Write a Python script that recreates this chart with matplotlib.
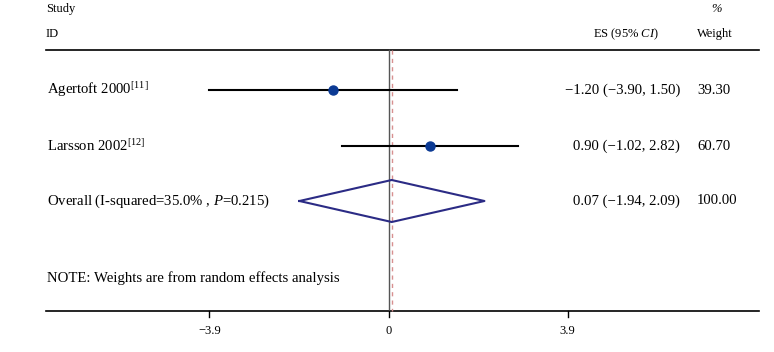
import matplotlib.pyplot as plt

# --- DATA ---
studies = ["Agertoft 2000", "Larsson 2002"]
refs = ["[11]", "[12]"]
es = [-1.20, 0.90]
ci_low = [-3.90, -1.02]
ci_high = [1.50, 2.82]
weights = ["39.30", "60.70"]

overall_es = 0.07
overall_low = -1.94
overall_high = 2.09
overall_label = "Overall (I-squared=35.0% , $\\it{P}$=0.215)"
overall_weight = "100.00"

ticks = [-3.9, 0, 3.9]
tick_labels = ["\u22123.9", "0", "3.9"]

note = "NOTE: Weights are from random effects analysis"


def fmt(v):
    return f"{v:.2f}".replace("-", "\u2212")


# --- STYLE ---
plt.rcParams["font.family"] = ["Liberation Serif", "DejaVu Serif"]
plt.rcParams["mathtext.fontset"] = "custom"
plt.rcParams["mathtext.rm"] = "Liberation Serif"
plt.rcParams["mathtext.it"] = "Liberation Serif:italic"

W, H = 774, 352
fig = plt.figure(figsize=(W / 100, H / 100), dpi=100)
ax = fig.add_axes([0, 0, 1, 1])
ax.axis("off")

# x in effect units, y in pixel rows (top down)
x0_px, px_per_unit = 388.5, 45.9
ax.set_xlim(-x0_px / px_per_unit, (W - x0_px) / px_per_unit)
ax.set_ylim(H, 0)
tr = ax.get_yaxis_transform()  # x in axes fraction, y in data

row_y = [90, 146]
overall_y = 201
top_line_y = 50
axis_y = 311
left_px, right_px = 46, 759
line_x0 = (left_px - x0_px) / px_per_unit
line_x1 = (right_px - x0_px) / px_per_unit

# --- headers ---
fs = 10.6
ax.text(46 / W, 9, "Study", transform=tr, fontsize=9, va="center")
ax.text(46 / W, 34, "ID", transform=tr, fontsize=9, va="center")
ax.text(716 / W, 9, "%", transform=tr, fontsize=9, va="center", ha="center", style="italic")
ax.text(697 / W, 34, "Weight", transform=tr, fontsize=9, va="center")
ax.text(659 / W, 34, "ES (95% $\\it{CI}$)", transform=tr, fontsize=9, va="center", ha="right")

ax.plot([line_x0, line_x1], [top_line_y, top_line_y], color="black", lw=1.2)
ax.plot([line_x0, line_x1], [axis_y, axis_y], color="black", lw=1.2)

# reference lines
ax.plot([0, 0], [top_line_y, axis_y], color="#555555", lw=1.0)
ax.plot([overall_es, overall_es], [top_line_y, axis_y], color="#d89090",
        lw=1.0, linestyle=(0, (3, 3)))

# --- studies ---
for i, name in enumerate(studies):
    y = row_y[i]
    ax.plot([ci_low[i], ci_high[i]], [y, y], color="black", lw=1.5, zorder=3)
    ax.plot(es[i], y, "o", color="#0b3a94", markersize=6.5, zorder=4)
    ax.text(47 / W, y, f"{name}$^{{{refs[i]}}}$", transform=tr, fontsize=fs, va="center")
    ax.text(680 / W, y, f"{fmt(es[i])} ({fmt(ci_low[i])}, {fmt(ci_high[i])})",
            transform=tr, fontsize=fs, va="center", ha="right")
    ax.text(697 / W, y, weights[i], transform=tr, fontsize=fs, va="center")

# --- overall diamond ---
dh = 21
ax.plot([overall_low, overall_es, overall_high, overall_es, overall_low],
        [overall_y, overall_y - dh, overall_y, overall_y + dh, overall_y],
        color="#2b2b85", lw=1.5, zorder=4)
ax.text(47 / W, overall_y, overall_label, transform=tr, fontsize=fs, va="center")
ax.text(680 / W, overall_y, f"{fmt(overall_es)} ({fmt(overall_low)}, {fmt(overall_high)})",
        transform=tr, fontsize=fs, va="center", ha="right")
ax.text(697 / W, overall_y, overall_weight, transform=tr, fontsize=fs, va="center")

ax.text(47 / W, 278, note, transform=tr, fontsize=fs, va="center")

# --- x axis ticks ---
for t, lab in zip(ticks, tick_labels):
    ax.plot([t, t], [axis_y, axis_y + 6], color="black", lw=1.0)
    ax.text(t, 331, lab, fontsize=9, ha="center", va="center")

fig.savefig("out.png", dpi=100)
